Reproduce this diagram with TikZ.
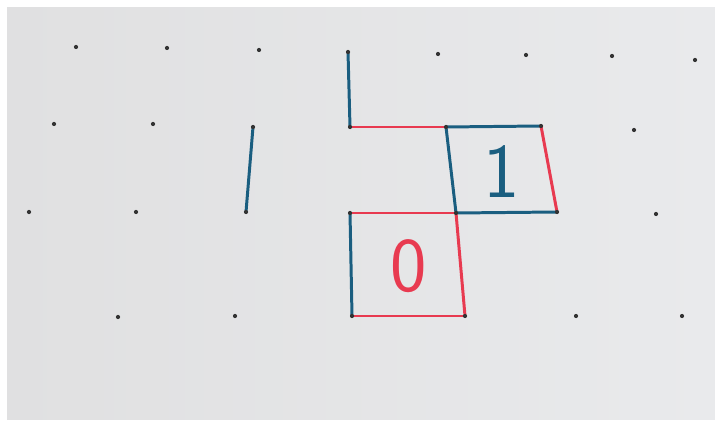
\documentclass[tikz,border=0pt]{standalone}
\usepackage{tikz}

\definecolor{inkblue}{RGB}{26,94,128}
\definecolor{inkred}{RGB}{232,58,80}
\definecolor{paperL}{RGB}{224,224,225}
\definecolor{paperR}{RGB}{233,234,236}

\begin{document}
\begin{tikzpicture}[x=0.02cm, y=-0.02cm,
    blueink/.style={draw=inkblue, line width=1.7pt, line cap=round},
    redink/.style={draw=inkred, line width=1.7pt, line cap=round},
    gridpt/.style={fill=black!80, radius=1.2pt}]
    \useasboundingbox (0,0) rectangle (715,421);
    \fill[white] (0,0) rectangle (715,421);
    \shade[left color=paperL, right color=paperR] (7,8) rectangle (715,419);

    % dot rows, back to front
    \coordinate (a1) at (76,47);   \coordinate (a2) at (167,48);  \coordinate (a3) at (259,50);
    \coordinate (a4) at (348,52);  \coordinate (a5) at (438,54);  \coordinate (a6) at (526,55);
    \coordinate (a7) at (612,56);  \coordinate (a8) at (695,60);
    \coordinate (b1) at (54,124);  \coordinate (b2) at (153,124); \coordinate (b3) at (253,127);
    \coordinate (b4) at (350,127); \coordinate (b5) at (446,127); \coordinate (b6) at (541,126);
    \coordinate (b7) at (634,130);
    \coordinate (c1) at (29,212);  \coordinate (c2) at (136,212); \coordinate (c3) at (246,212);
    \coordinate (c4) at (350,213); \coordinate (c5) at (456,213); \coordinate (c6) at (557,212);
    \coordinate (c7) at (656,214);
    \coordinate (d1) at (118,317); \coordinate (d2) at (235,316); \coordinate (d3) at (352,316);
    \coordinate (d4) at (465,316); \coordinate (d5) at (576,316); \coordinate (d6) at (682,316);

    \draw[blueink] (b3) -- (c3);
    \draw[blueink] (a4) -- (b4);
    \draw[redink] (b4) -- (b5);

    \draw[blueink] (b5) -- (b6);
    \draw[redink] (b6) -- (c6);
    \draw[blueink] (c6) -- (c5);
    \draw[blueink] (c5) -- (b5);

    \draw[redink] (c4) -- (c5);
    \draw[blueink] (c4) -- (d3);
    \draw[redink] (d3) -- (d4);
    \draw[redink] (c5) -- (d4);

    \node (one) at (502,172) [text=inkblue, font=\sffamily\fontsize{44}{44}\selectfont] {1};
    \node (zero) at (409,266) [text=inkred, font=\sffamily\fontsize{44}{44}\selectfont] {0};

    \foreach \p in {a1,a2,a3,a4,a5,a6,a7,a8,b1,b2,b3,b4,b5,b6,b7,c1,c2,c3,c4,c5,c6,c7,d1,d2,d3,d4,d5,d6}
        \fill[gridpt] (\p) circle;
\end{tikzpicture}
\end{document}
